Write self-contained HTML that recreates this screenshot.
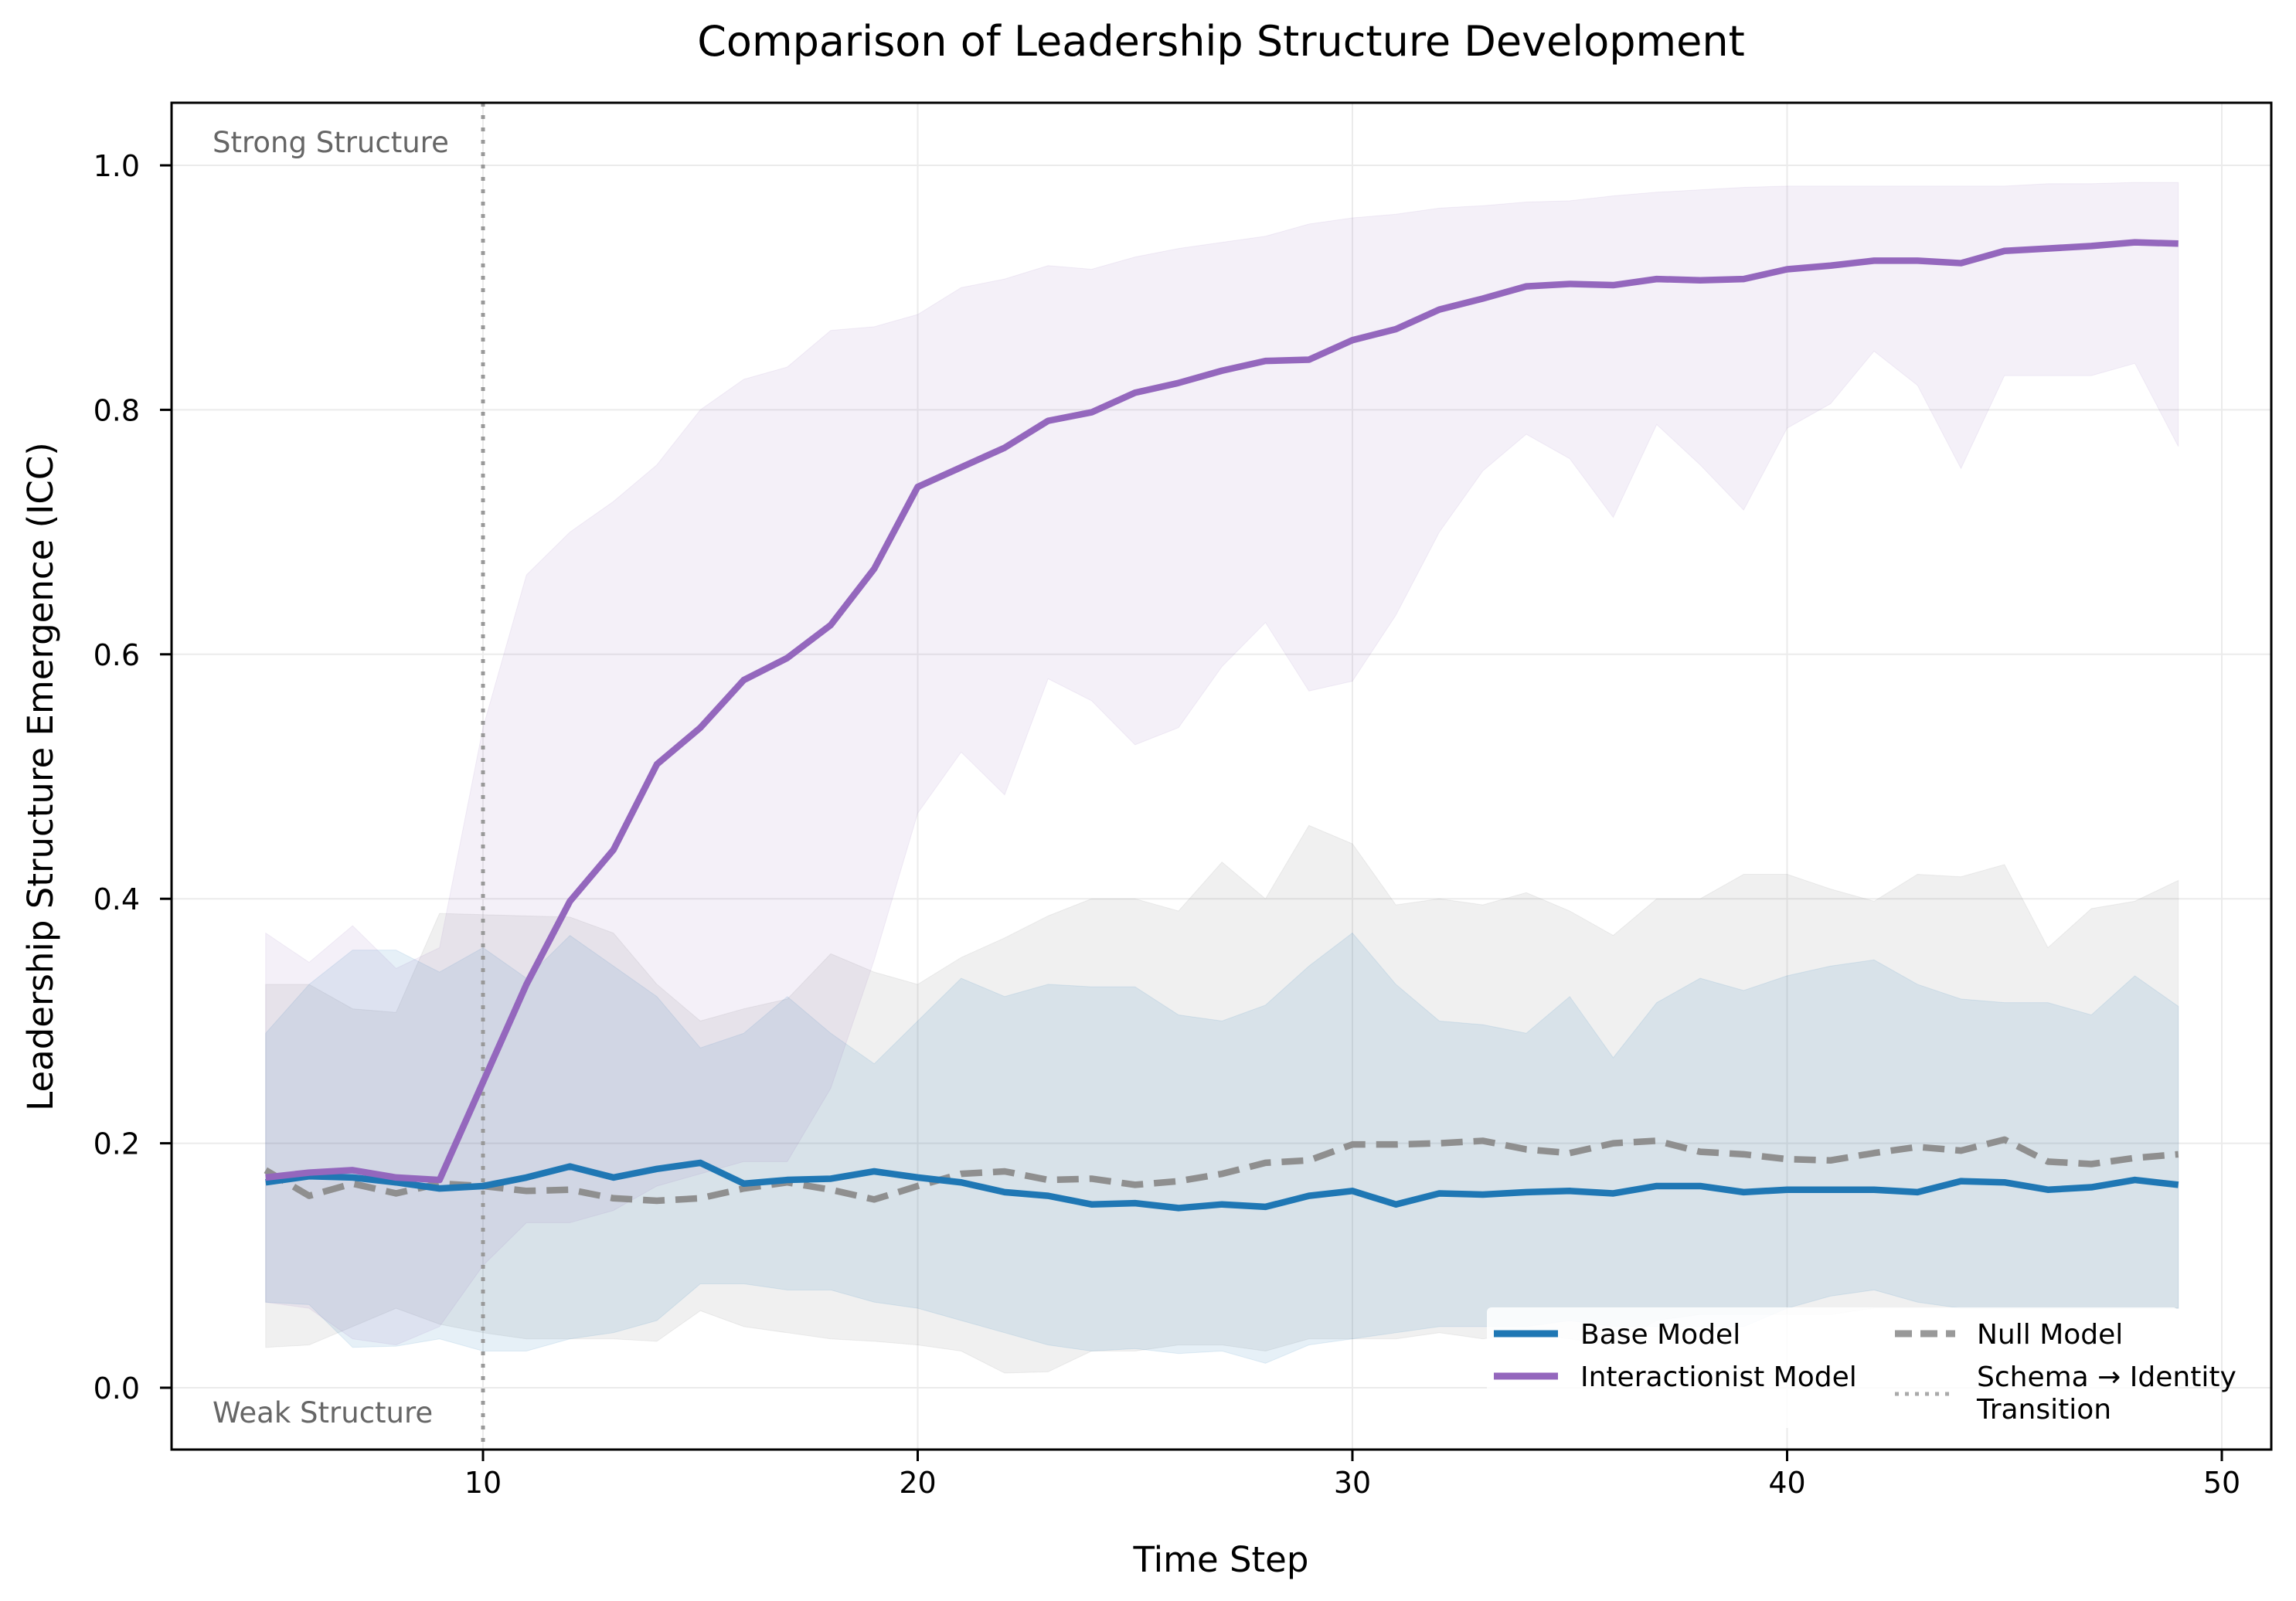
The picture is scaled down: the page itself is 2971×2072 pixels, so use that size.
<!DOCTYPE html>
<html><head><meta charset="utf-8"><style>
html,body{margin:0;padding:0;background:#fff}
svg{display:block;font-family:"DejaVu Sans","Liberation Sans",sans-serif}
</style></head><body>
<svg id="chart" width="2971" height="2072" viewBox="0 0 2971 2072">
<rect width="2971" height="2072" fill="#fff"/>
<text x="1580" y="72" text-anchor="middle" font-size="54" fill="#000">Comparison of Leadership Structure Development</text>
<text x="1580" y="2034" text-anchor="middle" font-size="45" fill="#000">Time Step</text>
<text transform="translate(68,1005) rotate(-90)" text-anchor="middle" font-size="45" fill="#000">Leadership Structure Emergence (ICC)</text>
<g id="grid"></g>
<g id="bands"></g>
<line id="vline" stroke="#999" stroke-width="5" stroke-dasharray="5,11"/>
<g id="lines"></g>
<text x="275" y="197" font-size="37" fill="#666">Strong Structure</text>
<text x="275" y="1841" font-size="37" fill="#666">Weak Structure</text>
<rect x="222" y="133" width="2717" height="1743" fill="none" stroke="#000" stroke-width="3"/>
<g id="ticks"></g>
<g>
<rect x="1924" y="1692" width="894" height="156" rx="6" fill="#fff" fill-opacity="0.85"/>
<g>
<line x1="1933" y1="1726" x2="2016" y2="1726" stroke="#1f77b4" stroke-width="9"/>
<text x="2045" y="1739" font-size="36">Base Model</text></g>
<g>
<line x1="1933" y1="1781" x2="2016" y2="1781" stroke="#9467bd" stroke-width="9"/>
<text x="2045" y="1794" font-size="36">Interactionist Model</text></g>
<g>
<line x1="2452" y1="1726" x2="2530" y2="1726" stroke="#999" stroke-width="9" stroke-dasharray="22,11"/>
<text x="2558" y="1739" font-size="36">Null Model</text></g>
<g>
<line x1="2452" y1="1804" x2="2530" y2="1804" stroke="#aaa" stroke-width="5" stroke-dasharray="5,8"/>
<text x="2558" y="1794" font-size="36">Schema → Identity</text>
<text x="2558" y="1836" font-size="36">Transition</text></g>
</g>
</svg>
<script>
const steps = Array.from({length:45},(_,i)=>i+5);
const baseMean = [0.168,0.173,0.172,0.168,0.163,0.165,0.172,0.181,0.172,0.179,0.184,0.167,0.170,0.171,0.177,0.172,0.168,0.160,0.157,0.150,0.151,0.147,0.150,0.148,0.157,0.161,0.150,0.159,0.158,0.160,0.161,0.159,0.165,0.165,0.160,0.162,0.162,0.162,0.160,0.169,0.168,0.162,0.164,0.170,0.166];
const interMean = [0.172,0.176,0.178,0.172,0.170,0.250,0.330,0.398,0.440,0.510,0.540,0.579,0.597,0.624,0.670,0.737,0.753,0.769,0.791,0.798,0.814,0.822,0.832,0.840,0.841,0.857,0.866,0.882,0.891,0.901,0.903,0.902,0.907,0.906,0.907,0.915,0.918,0.922,0.922,0.920,0.930,0.932,0.934,0.937,0.936];
const nullMean = [0.178,0.157,0.167,0.159,0.167,0.165,0.161,0.162,0.155,0.153,0.155,0.163,0.168,0.162,0.154,0.165,0.175,0.177,0.170,0.171,0.166,0.169,0.175,0.184,0.186,0.199,0.199,0.200,0.202,0.195,0.192,0.200,0.202,0.193,0.191,0.187,0.186,0.192,0.197,0.194,0.203,0.185,0.183,0.188,0.191];
const interUpper = [0.372,0.348,0.378,0.343,0.36,0.54,0.665,0.70,0.725,0.755,0.80,0.825,0.835,0.865,0.868,0.878,0.90,0.907,0.918,0.915,0.925,0.932,0.937,0.942,0.952,0.957,0.960,0.965,0.967,0.970,0.971,0.975,0.978,0.980,0.982,0.983,0.983,0.983,0.983,0.983,0.983,0.985,0.985,0.986,0.986];
const interLower = [0.07,0.065,0.04,0.035,0.05,0.10,0.135,0.135,0.145,0.165,0.175,0.185,0.185,0.245,0.35,0.47,0.52,0.485,0.58,0.562,0.526,0.54,0.59,0.626,0.57,0.578,0.632,0.70,0.75,0.78,0.76,0.712,0.788,0.755,0.718,0.785,0.805,0.848,0.82,0.752,0.828,0.828,0.828,0.838,0.77];
const baseUpper = [0.29,0.33,0.358,0.358,0.34,0.36,0.335,0.37,0.345,0.32,0.278,0.29,0.32,0.29,0.265,0.30,0.335,0.32,0.33,0.328,0.328,0.305,0.30,0.313,0.345,0.372,0.33,0.30,0.297,0.29,0.32,0.27,0.315,0.335,0.325,0.337,0.345,0.35,0.33,0.318,0.315,0.315,0.305,0.337,0.312];
const baseLower = [0.07,0.068,0.033,0.034,0.04,0.03,0.03,0.04,0.045,0.055,0.085,0.085,0.08,0.08,0.07,0.065,0.055,0.045,0.035,0.03,0.032,0.028,0.03,0.02,0.035,0.04,0.045,0.05,0.05,0.05,0.055,0.05,0.05,0.05,0.05,0.065,0.075,0.08,0.07,0.065,0.065,0.065,0.065,0.065,0.065];
const nullUpper = [0.33,0.33,0.31,0.307,0.388,0.387,0.386,0.385,0.372,0.33,0.30,0.31,0.318,0.355,0.34,0.33,0.352,0.368,0.386,0.40,0.40,0.39,0.43,0.40,0.46,0.445,0.395,0.40,0.395,0.405,0.39,0.37,0.40,0.40,0.42,0.42,0.408,0.398,0.42,0.418,0.428,0.36,0.392,0.398,0.415];
const nullLower = [0.033,0.035,0.05,0.065,0.052,0.045,0.04,0.04,0.04,0.038,0.063,0.05,0.045,0.04,0.038,0.035,0.03,0.012,0.013,0.03,0.03,0.035,0.035,0.03,0.04,0.04,0.04,0.045,0.04,0.045,0.04,0.035,0.055,0.06,0.06,0.06,0.06,0.065,0.065,0.065,0.065,0.065,0.065,0.065,0.065];
const xTicks = [10,20,30,40,50];
const yTicks = [0.0,0.2,0.4,0.6,0.8,1.0];
const transitionStep = 10;

const NS='http://www.w3.org/2000/svg';
const X = v => 62.5 + v*56.25;
const Y = v => 1796 - v*1582;
function mk(tag, attrs, parent){const e=document.createElementNS(NS,tag);for(const k in attrs)e.setAttribute(k,attrs[k]);parent.appendChild(e);return e;}
const grid=document.getElementById('grid'), bands=document.getElementById('bands'), lines=document.getElementById('lines'), ticks=document.getElementById('ticks');
xTicks.forEach(t=>{
  const g=mk('line',{x1:X(t),x2:X(t),y1:133,y2:1876,stroke:'#ebebeb','stroke-width':2},grid);
  
  
  const tk=mk('line',{x1:X(t),x2:X(t),y1:1876,y2:1891,stroke:'#000','stroke-width':3},ticks);
  
  
  const tl=mk('text',{x:X(t),y:1932,'text-anchor':'middle','font-size':38},ticks);
  tl.textContent=t;
  
  
});
yTicks.forEach(t=>{
  const g=mk('line',{x1:222,x2:2939,y1:Y(t),y2:Y(t),stroke:'#ebebeb','stroke-width':2},grid);
  
  
  const tk=mk('line',{x1:207,x2:222,y1:Y(t),y2:Y(t),stroke:'#000','stroke-width':3},ticks);
  
  
  const tl=mk('text',{x:181,y:Y(t)+14,'text-anchor':'end','font-size':38},ticks);
  tl.textContent=t.toFixed(1);
  
  
});
function band(up,lo,color,op,name){
  let d='M'+steps.map((s,i)=>X(s)+','+Y(up[i])).join('L');
  for(let i=steps.length-1;i>=0;i--) d+='L'+X(steps[i])+','+Y(lo[i]);
  const p=mk('path',{d:d+'Z',fill:color,'fill-opacity':op,stroke:color,'stroke-opacity':op},bands);
  
  
}
band(nullUpper,nullLower,'#8c8c8c',0.13,'null-band');
band(baseUpper,baseLower,'#1f77b4',0.11,'base-band');
band(interUpper,interLower,'#9467bd',0.1,'interactionist-band');
const vl=document.getElementById('vline');
vl.setAttribute('x1',X(transitionStep));vl.setAttribute('x2',X(transitionStep));
vl.setAttribute('y1',133);vl.setAttribute('y2',1876);
function line(vals,color,dash,name){
  const p=mk('path',{d:'M'+steps.map((s,i)=>X(s)+','+Y(vals[i])).join('L'),fill:'none',stroke:color,'stroke-width':8.5,'stroke-linejoin':'round'},lines);
  if(dash)p.setAttribute('stroke-dasharray',dash);
  
  
}
line(nullMean,'#8f8f8f','28,14','null-model-line');
line(baseMean,'#1f77b4',null,'base-model-line');
line(interMean,'#9467bd',null,'interactionist-model-line');
</script>
</body></html>
